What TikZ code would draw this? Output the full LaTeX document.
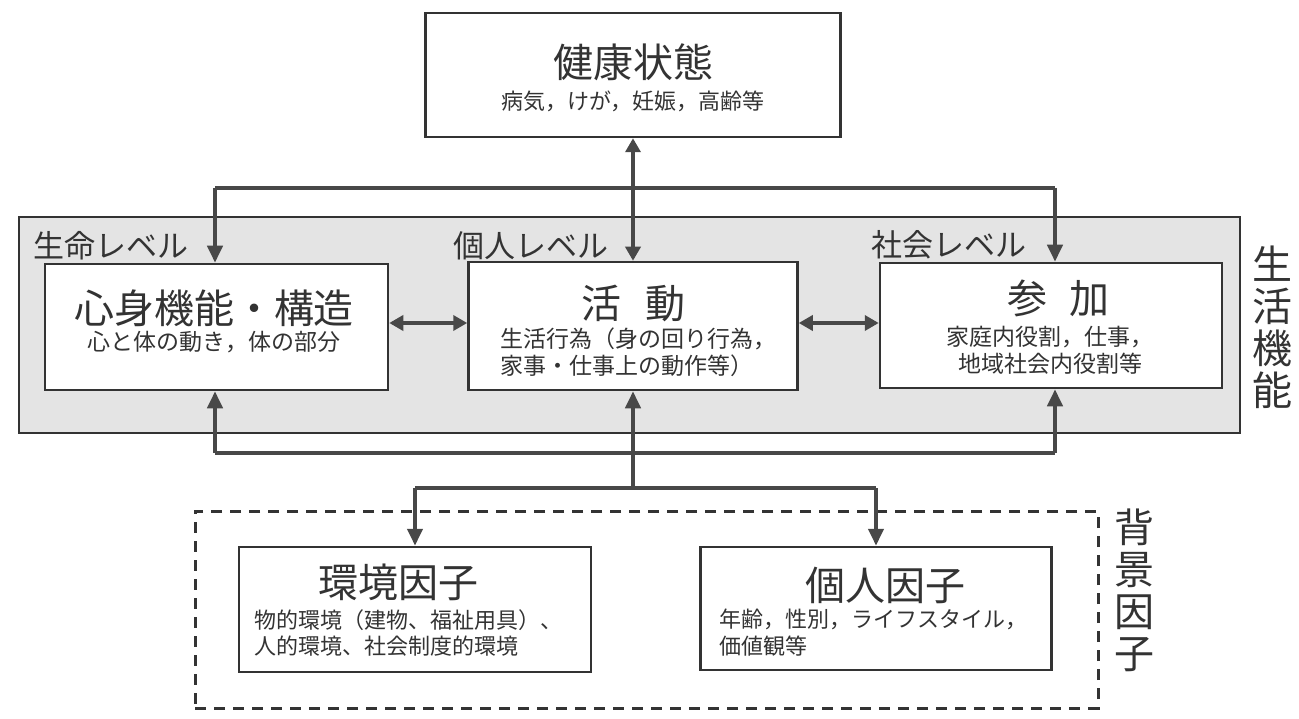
\documentclass[tikz,border=0pt]{standalone}
\usepackage{fontspec}
\newfontfamily\jp{Noto Sans CJK JP}
\usetikzlibrary{arrows.meta,calc}
\definecolor{ink}{HTML}{333333}
\definecolor{arrowc}{HTML}{484848}
\definecolor{framefill}{HTML}{E4E4E4}
\begin{document}
\begin{tikzpicture}[x=1pt,y=-1pt,
 box/.style={draw=ink,line width=2.5pt,fill=white,inner sep=0pt,rectangle},
 ttl/.style={font=\fontsize{40}{44}\jp,text=ink,inner sep=0pt},
 sub/.style={font=\fontsize{23}{27}\jp,text=ink,inner sep=0pt,align=left},
 lvl/.style={font=\fontsize{31}{34}\jp,text=ink,inner sep=0pt},
 conn/.style={draw=arrowc,line width=4pt},
 arr/.style={conn,-{Triangle[length=17pt,width=15pt]}},
 darr/.style={conn,{Triangle[length=14pt,width=15pt]}-{Triangle[length=14pt,width=15pt]}},
 vtext/.style={font=\fontsize{40}{42}\jp,text=ink,inner sep=0pt,align=center}
]
\useasboundingbox (0,0) rectangle (1299,719);
\fill[white] (0,0) rectangle (1299,719);

% frames
\node[draw=ink,line width=2.5pt,fill=framefill,inner sep=0pt,minimum width=1221pt,minimum height=216pt] (frame) at (629.5,325) {};
\node[draw=ink,line width=3pt,dash pattern=on 11pt off 8pt,inner sep=0pt,minimum width=903pt,minimum height=197pt] (bgframe) at (646.5,609.5) {};

% boxes
\node[box,minimum width=415pt,minimum height=124pt] (kenko) at (633,75) {};
\node[box,minimum width=343pt,minimum height=126pt] (shinshin) at (216.5,327) {};
\node[box,minimum width=329pt,minimum height=128pt] (katsudo) at (633,326) {};
\node[box,minimum width=342pt,minimum height=125pt] (sanka) at (1051,325.5) {};
\node[box,minimum width=352pt,minimum height=125pt] (kankyo) at (415,609.5) {};
\node[box,minimum width=351pt,minimum height=123pt] (kojin) at (876,608.5) {};

% texts
\node[ttl] (kenkoT) at (633,62) {健康状態};
\node[sub,font=\fontsize{22}{26}\jp] (kenkoS) at (633,101) {病気，けが，妊娠，高齢等};
\node[ttl] (shinshinT) at (214,308) {心身機能・構造};
\node[sub] (shinshinS) at (214,342) {心と体の動き，体の部分};
\node[ttl] (katsudoT) at (633,303) {活\hspace{24pt}動};
\node[sub,anchor=west] (katsudoS) at (500,352) {生活行為（身の回り行為，\\家事・仕事上の動作等）};
\node[ttl] (sankaT) at (1058,298) {参\hspace{22pt}加};
\node[sub,align=center] (sankaS) at (1050,350) {家庭内役割，仕事，\\地域社会内役割等};
\node[ttl] (kankyoT) at (398,582) {環境因子};
\node[sub,anchor=west,font=\fontsize{22}{26}\jp] (kankyoS) at (254,633) {物的環境（建物、福祉用具）、\\人的環境、社会制度的環境};
\node[ttl] (kojinT) at (885,585) {個人因子};
\node[sub,anchor=west,font=\fontsize{22}{27}\jp] (kojinS) at (719,633) {年齢，性別，ライフスタイル，\\価値観等};

\node[lvl] (lv1) at (111,246) {生命レベル};
\node[lvl] (lv2) at (531,246) {個人レベル};
\node[lvl] (lv3) at (949,245) {社会レベル};

\node[vtext] (seikatsu) at (1272,327) {生\\活\\機\\能};
\node[vtext] (haikei) at (1134,590) {背\\景\\因\\子};

% connectors top
\coordinate (tl) at (215,188);
\coordinate (tr) at (1055,188);
\draw[conn] (tl) -- (tr);
\draw[arr] (tl) -- (tl |- shinshin.north);
\draw[arr] (tr) -- (tr |- sanka.north);
\draw[darr] (kenko.south) -- (katsudo.north);

% connectors between
\draw[darr] (shinshin.east |- 0,323) -- (katsudo.west |- 0,323);
\draw[darr] (katsudo.east |- 0,323) -- (sanka.west |- 0,323);

% connectors bottom
\coordinate (bl) at (215,453);
\coordinate (br) at (1055,453);
\coordinate (cb) at (633,488);
\coordinate (kl) at (415,488);
\coordinate (kr) at (876,488);
\draw[conn] (bl) -- (br);
\draw[arr] (bl) -- (bl |- shinshin.south);
\draw[arr] (br) -- (br |- sanka.south);
\draw[arr] (cb) -- (katsudo.south);
\draw[conn] (kl) -- (kr);
\draw[arr] (kl) -- (kankyo.north);
\draw[arr] (kr) -- (kojin.north);
\end{tikzpicture}
\end{document}
